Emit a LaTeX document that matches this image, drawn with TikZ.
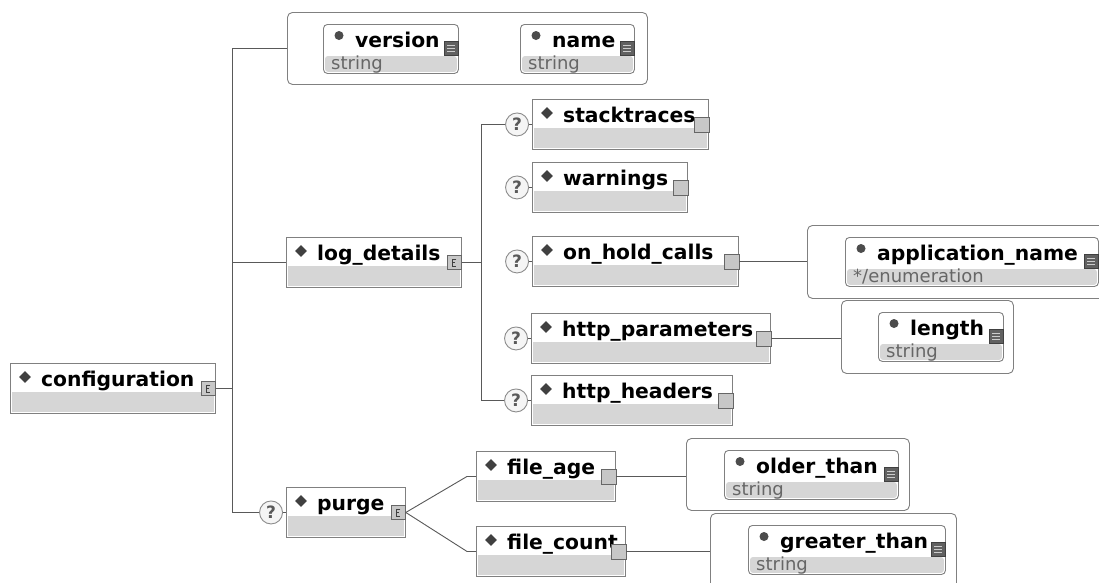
\documentclass[tikz,border=0pt]{standalone}
\usepackage{fontspec}
\setmainfont{DejaVu Sans}
\usetikzlibrary{calc}
\usetikzlibrary{positioning}
\usetikzlibrary{shapes.geometric}

\tikzset{
        elem/.style={draw=black!50, fill=white, line width=0.9pt, minimum height=50pt, inner sep=0, anchor=north west},
        att/.style={elem, rounded corners=4pt, minimum height=49pt},
        grp/.style={draw=black!50, fill=white, line width=0.9pt, rounded corners=5pt, minimum height=72pt, inner sep=0, anchor=north west},
        band/.style={fill=black!16},
        lbl/.style={anchor=base west, inner sep=0, font=\bfseries\fontsize{20.3}{23}\selectfont},
        typ/.style={anchor=base west, inner sep=0, text=black!60, font=\fontsize{18}{20}\selectfont},
        dia/.style={diamond, fill=black!75, minimum size=12pt, inner sep=0},
        dot/.style={circle, fill=black!70, minimum size=9pt, inner sep=0},
        kids/.style={draw=black!60, fill=black!22, line width=0.8pt, minimum size=15pt, inner sep=0},
        cplx/.style={kids, minimum size=14pt, path picture={
                \draw[black!75, line width=0.6pt]
                ([shift={(9pt,-3.5pt)}]path picture bounding box.north west) -- ++(-4pt,0) -- ++(0,-7pt) -- ++(4pt,0)
                ([shift={(5pt,-7pt)}]path picture bounding box.north west) -- ++(3pt,0);}},
        lines/.style={draw=black!75, fill=black!62, minimum size=14pt, inner sep=0, path picture={
                \foreach \k in {4,7,10}
                \draw[black!20, line width=0.8pt]
                ([shift={(3pt,-\k pt)}]path picture bounding box.north west) -- ++(8pt,0);}},
        quest/.style={circle, draw=black!45, fill=black!4, line width=0.9pt, minimum size=23pt, inner sep=0,
                text=black!65, font=\bfseries\fontsize{17}{17}\selectfont},
        link/.style={draw=black!65, line width=0.9pt}
}

\newcommand{\elbox}[6]{%
        \node[elem, minimum width=#4] (#1) at (#2,#3) {};
        \fill[band] ($(#1.north west)+(2,29)$) rectangle ($(#1.south east)+(-2,-2)$);
        \node[dia] (#1-d) at ($(#1.north west)+(15,14)$) {};
        \node[lbl] (#1-t) at ($(#1.north west)+(31,23.5)$) {#5};
        \node[#6] (#1-i) at ($(#1.east)+(-7.5,0)$) {};
}

\newcommand{\attbox}[6]{%
        \node[att, minimum width=#4] (#1) at (#2,#3) {};
        \fill[band, rounded corners=3pt] ($(#1.north west)+(2,32)$) rectangle ($(#1.south east)+(-2,-2)$);
        \node[dot] (#1-d) at ($(#1.north west)+(16,11.5)$) {};
        \node[lbl] (#1-t) at ($(#1.north west)+(32,23)$) {#5};
        \node[typ] (#1-y) at ($(#1.north west)+(8,45.5)$) {#6};
        \node[lines] (#1-i) at ($(#1.east)+(-7.5,-1)$) {};
}

\begin{document}
\begin{tikzpicture}[x=1pt, y=-1pt]
        \useasboundingbox (0,0) rectangle (1099,582);
        \fill[white] (0,0) rectangle (1099,582);

        \elbox{cfg}{10}{363}{205}{configuration}{cplx}

        \node[grp, minimum width=360] (vn) at (287,12) {};
        \attbox{ver}{323}{24}{135}{version}{string}
        \attbox{nam}{520}{24}{114}{name}{string}

        \elbox{log}{286}{237}{175}{log\_details}{cplx}
        \elbox{st}{532}{99}{176}{stacktraces}{kids}
        \elbox{wa}{532}{162}{155}{warnings}{kids}
        \elbox{oh}{532}{236}{206}{on\_hold\_calls}{kids}
        \elbox{hp}{531}{313}{239}{http\_parameters}{kids}
        \elbox{hh}{531}{375}{201}{http\_headers}{kids}
        \foreach \n in {st,wa,oh,hp,hh}
        \node[quest, left=3pt of \n] (q\n) {?};

        \node[grp, minimum width=300, minimum height=73] (ac) at (807,225) {};
        \attbox{an}{845}{237}{253}{application\_name}{*/enumeration}
        \node[grp, minimum width=172, minimum height=73] (lc) at (841,300) {};
        \attbox{len}{878}{312}{125}{length}{string}

        \elbox{purge}{286}{487}{119}{purge}{cplx}
        \node[quest, left=3pt of purge] (qp) {?};
        \elbox{fa}{476}{451}{139}{file\_age}{kids}
        \elbox{fc}{476}{526}{149}{file\_count}{kids}

        \node[grp, minimum width=223] (oc) at (686,438) {};
        \attbox{ot}{724}{450}{174}{older\_than}{string}
        \node[grp, minimum width=246, minimum height=80] (gc) at (710,513) {};
        \attbox{gt}{748}{525}{197}{greater\_than}{string}

        \coordinate (cj) at ($(cfg-i.east)+(17,0)$);
        \draw[link] (cfg-i.east) -- (cj);
        \draw[link] (vn.west) -| (cj) |- (qp.west);
        \draw[link] (cj) |- (log.west);

        \coordinate (lj) at ($(log-i.east)+(20,0)$);
        \draw[link] (log-i.east) -- (lj);
        \draw[link] (qst.west) -| (lj) |- (qhh.west);
        \foreach \n in {st,wa,oh,hp,hh}
        \draw[link] (q\n.east) -- (\n.west);

        \draw[link] (qp.east) -- (purge.west);
        \draw[link] (purge-i.east) -- ($(fa.west)+(-9,0)$) -- (fa.west);
        \draw[link] (purge-i.east) -- ($(fc.west)+(-9,0)$) -- (fc.west);

        \draw[link] (oh-i.east) -- (oh-i.east -| ac.west);
        \draw[link] (hp-i.east) -- (hp-i.east -| lc.west);
        \draw[link] (fa-i.east) -- (fa-i.east -| oc.west);
        \draw[link] (fc-i.east) -- (fc-i.east -| gc.west);
\end{tikzpicture}
\end{document}
